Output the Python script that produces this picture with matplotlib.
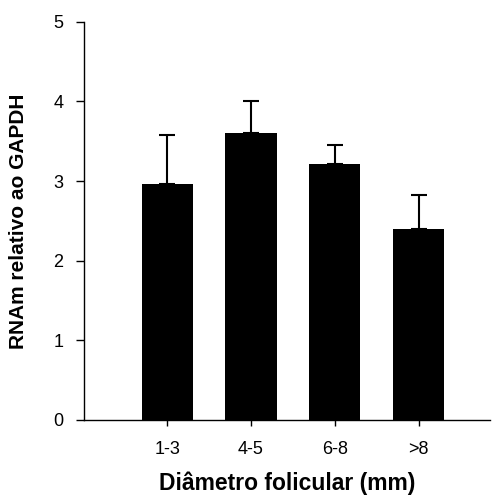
import matplotlib
matplotlib.use("Agg")
from matplotlib import pyplot as plt
import numpy as np

plt.rcParams['font.family'] = ['Liberation Sans', 'DejaVu Sans']

# Data
categories = ["1-3", "4-5", "6-8", ">8"]
means = [2.96, 3.61, 3.22, 2.40]
upper_err = [0.62, 0.39, 0.23, 0.43]

fig = plt.figure(figsize=(4.95, 4.97), dpi=100)
ax = fig.add_axes([0.170, 0.155, 0.820, 0.801])

x = np.arange(len(categories))
ax.bar(x, means, width=0.61, color="black",
       yerr=[np.zeros(len(upper_err)), upper_err],
       error_kw=dict(ecolor="black", elinewidth=1.5, capsize=6, capthick=1.5))

ax.set_xlim(-0.99, 3.85)
ax.set_ylim(0, 5)
ax.set_yticks(range(6))
ax.set_xticks(x)
ax.set_xticklabels(categories)

ax.spines["top"].set_visible(False)
ax.spines["right"].set_visible(False)
ax.spines["left"].set_linewidth(1)
ax.spines["bottom"].set_linewidth(1)
ax.tick_params(axis="y", direction="out", length=6, width=1, labelsize=13, pad=9)
ax.tick_params(axis="x", direction="out", length=4, width=1, labelsize=13, pad=11)

ax.set_xlabel("Diâmetro folicular (mm)", fontsize=16.5, fontweight="bold", labelpad=10)
ax.set_ylabel("RNAm relativo ao GAPDH", fontsize=15, fontweight="bold", labelpad=18)

plt.savefig("out.png", dpi=100)
